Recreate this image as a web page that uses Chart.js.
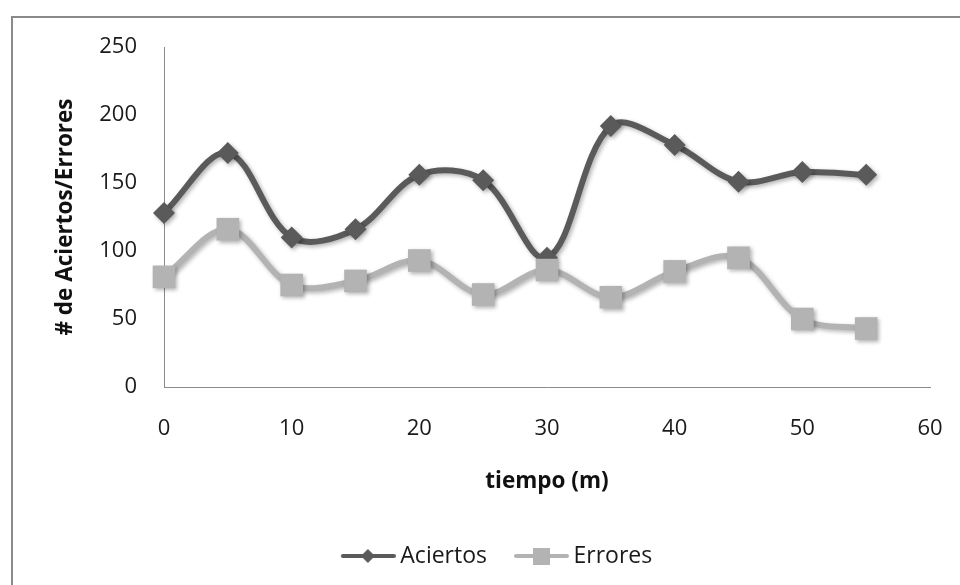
<!DOCTYPE html>
<html>
<head>
<meta charset="utf-8">
<script src="https://cdn.jsdelivr.net/npm/chart.js@4"></script>
<style>
  html, body { margin: 0; padding: 0; background: #fff; }
  .wrap { position: relative; width: 960px; height: 585px; overflow: hidden; }
  .frame { position: absolute; left: 11px; top: 16px; width: 980px; height: 620px; border: 2px solid #8a8a8a; box-sizing: border-box; }
  canvas { position: absolute; left: 0; top: 0; }
</style>
</head>
<body>
<div class="wrap">
  <div class="frame"></div>
  <canvas id="chart" width="960" height="585"></canvas>
</div>
<script>
// datos
const tiempo = [0, 5, 10, 15, 20, 25, 30, 35, 40, 45, 50, 55];
const aciertos = [128, 172, 110, 116, 156, 152, 95, 192, 178, 151, 158, 156];
const errores = [81, 116, 75, 78, 93, 68, 86, 66, 85, 95, 50, 43];
const yTicks = [0, 50, 100, 150, 200, 250];
const xTicks = [0, 10, 20, 30, 40, 50, 60];

const colorAciertos = '#5a5a5a';
const colorErrores = '#b3b3b3';
const fontFamily = "'Open Sans', sans-serif";

// iconos de leyenda: linea + marcador (el icono queda pegado al texto)
function legendIcon(color, style) {
    const c = document.createElement('canvas');
    c.width = 58; c.height = 22;
    const g = c.getContext('2d');
    g.strokeStyle = color;
    g.lineWidth = 4;
    g.lineCap = 'round';
    g.beginPath(); g.moveTo(5, 11); g.lineTo(56, 11); g.stroke();
    g.fillStyle = color;
    if (style === 'diamond') {
        g.beginPath();
        g.moveTo(30, 4); g.lineTo(37, 11); g.lineTo(30, 18); g.lineTo(23, 11);
        g.closePath(); g.fill();
    } else {
        g.fillRect(22, 3, 17, 17);
    }
    return c;
}
const legendIcons = [legendIcon(colorAciertos, 'diamond'), legendIcon(colorErrores, 'square')];

// sombra suave como en el original
const shadowPlugin = {
    id: 'shadow',
    beforeDatasetsDraw(chart) {
        const ctx = chart.ctx;
        ctx.save();
        ctx.shadowColor = 'rgba(0,0,0,0.3)';
        ctx.shadowBlur = 4;
        ctx.shadowOffsetX = 2;
        ctx.shadowOffsetY = 2;
    },
    afterDatasetsDraw(chart) {
        chart.ctx.restore();
    }
};

// la leyenda del original no esta centrada en el lienzo
const legendShift = {
    id: 'legendShift',
    afterLayout(chart) {
        chart.legend.left += 33.5;
        chart.legend.right += 33.5;
    }
};

const toPoints = (xs, ys) => xs.map((x, i) => ({ x: x, y: ys[i] }));

new Chart(document.getElementById('chart'), {
    type: 'line',
    data: {
        datasets: [
            {
                label: 'Aciertos',
                data: toPoints(tiempo, aciertos),
                borderColor: colorAciertos,
                backgroundColor: colorAciertos,
                borderWidth: 6,
                tension: 0.35,
                pointStyle: 'rectRot',
                pointRadius: 11,
                pointBorderWidth: 0,
                clip: false,
                order: 1
            },
            {
                label: 'Errores',
                data: toPoints(tiempo, errores),
                borderColor: colorErrores,
                backgroundColor: colorErrores,
                borderWidth: 6,
                tension: 0.35,
                pointStyle: 'rect',
                pointRadius: 16,
                pointBorderWidth: 0,
                clip: false,
                order: 0
            }
        ]
    },
    options: {
        responsive: false,
        animation: false,
        layout: { padding: { left: 0, top: 47, right: 30, bottom: 7.5 } },
        plugins: {
            tooltip: { enabled: false },
            legend: {
                position: 'bottom',
                labels: {
                    usePointStyle: true,
                    pointStyleWidth: 44,
                    padding: 31,
                    color: '#1a1a1a',
                    font: { family: fontFamily, size: 23 },
                    sort: (a, b) => a.datasetIndex - b.datasetIndex,
                    generateLabels(chart) {
                        const items = Chart.defaults.plugins.legend.labels.generateLabels(chart);
                        items.forEach(it => { it.pointStyle = legendIcons[it.datasetIndex]; });
                        return items;
                    }
                }
            }
        },
        scales: {
            x: {
                type: 'linear',
                min: 0, max: 60,
                afterBuildTicks(scale) { scale.ticks = xTicks.map(v => ({ value: v })); },
                afterFit(scale) {
                    scale.height = 126.5;
                    scale.paddingLeft = 0;
                    scale.paddingRight = 0;
                },
                grid: { display: false, drawTicks: false },
                border: { display: true, color: '#8a8a8a', width: 1 },
                ticks: { padding: 29, color: '#1a1a1a', font: { family: fontFamily, size: 22 } },
                title: {
                    display: true,
                    text: 'tiempo (m)',
                    color: '#111',
                    padding: { top: 0, bottom: 18 },
                    font: { family: fontFamily, size: 22.5, weight: 'bold' }
                }
            },
            y: {
                min: 0, max: 250,
                afterBuildTicks(scale) { scale.ticks = yTicks.map(v => ({ value: v })); },
                afterFit(scale) { scale.width = 164; },
                grid: { display: false, drawTicks: false },
                border: { display: true, color: '#8a8a8a', width: 1 },
                ticks: { padding: 27, color: '#1a1a1a', font: { family: fontFamily, size: 22 } },
                title: {
                    display: true,
                    text: '# de Aciertos/Errores',
                    color: '#111',
                    padding: { top: 52, bottom: 0 },
                    font: { family: fontFamily, size: 22.5, weight: 'bold' }
                }
            }
        }
    },
    plugins: [shadowPlugin, legendShift]
});
</script>
</body>
</html>
